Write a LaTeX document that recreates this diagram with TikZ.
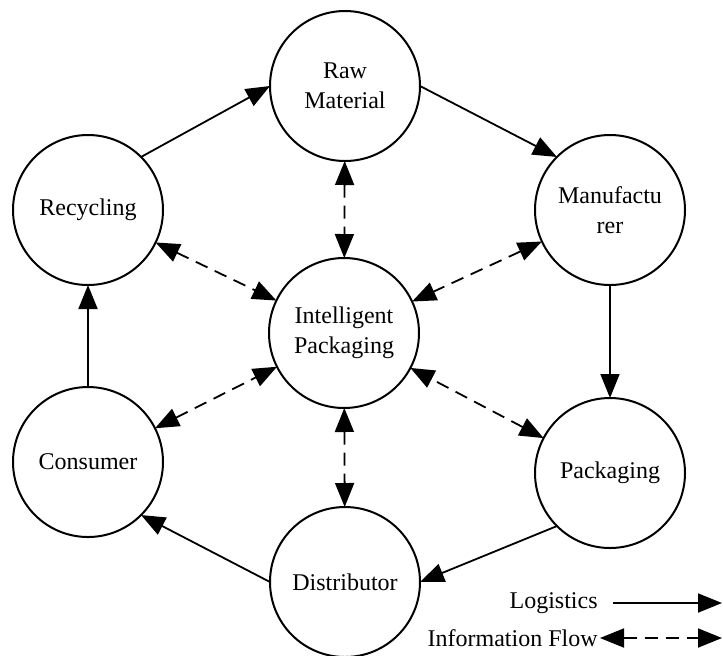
\documentclass[tikz,border=0pt]{standalone}
\usepackage{fontspec}
\setmainfont{Liberation Serif}
\usetikzlibrary{arrows.meta}
\begin{document}
\begin{tikzpicture}[x=0.5pt,y=-0.5pt,
  stage/.style={circle,draw,line width=1pt,minimum size=75pt,inner sep=0pt,outer sep=0pt,align=center,font=\fontsize{12}{15}\selectfont},
  logi/.style={line width=0.9pt,-{Triangle[length=12pt,width=9.5pt]}},
  info/.style={line width=0.9pt,dash pattern=on 6.5pt off 4pt,{Triangle[length=12pt,width=9.5pt]}-{Triangle[length=12pt,width=9.5pt]}},
  lab/.style={font=\fontsize{12}{15}\selectfont,inner sep=0pt}]
\useasboundingbox (0,0) rectangle (723,655);
\node[stage] (rm) at (345,86) {Raw\\Material};
\node[stage] (rc) at (88,210) {Recycling};
\node[stage] (mf) at (610,210) {Manufactu\\rer};
\node[stage] (ip) at (344,333) {Intelligent\\Packaging};
\node[stage] (cs) at (88,462) {Consumer};
\node[stage] (pk) at (610,473) {Packaging};
\node[stage] (ds) at (345,582) {Distributor};
% logistics
\draw[logi] (rc.45) -- (rm.west);
\draw[logi] (rm.east) -- (mf.135);
\draw[logi] (mf.south) -- (pk.north);
\draw[logi] (pk.225) -- (ds.east);
\draw[logi] (ds.west) -- (cs.-45);
\draw[logi] (cs.north) -- (rc.south);
% information flow
\draw[info] (rm) -- (ip);
\draw[info] (rc) -- (ip);
\draw[info] (mf) -- (ip);
\draw[info] (cs) -- (ip);
\draw[info] (pk) -- (ip);
\draw[info] (ip) -- (ds);
% legend
\node[lab,anchor=east] (lg) at (598,603) {Logistics};
\node[lab,anchor=east] (lf) at (598,638) {Information Flow};
\coordinate (lga) at (613,603);
\coordinate (lgb) at (722,603);
\coordinate (lfa) at (600,638);
\coordinate (lfb) at (722,638);
\draw[logi] (lga) -- (lgb);
\draw[info] (lfa) -- (lfb);
\end{tikzpicture}
\end{document}
